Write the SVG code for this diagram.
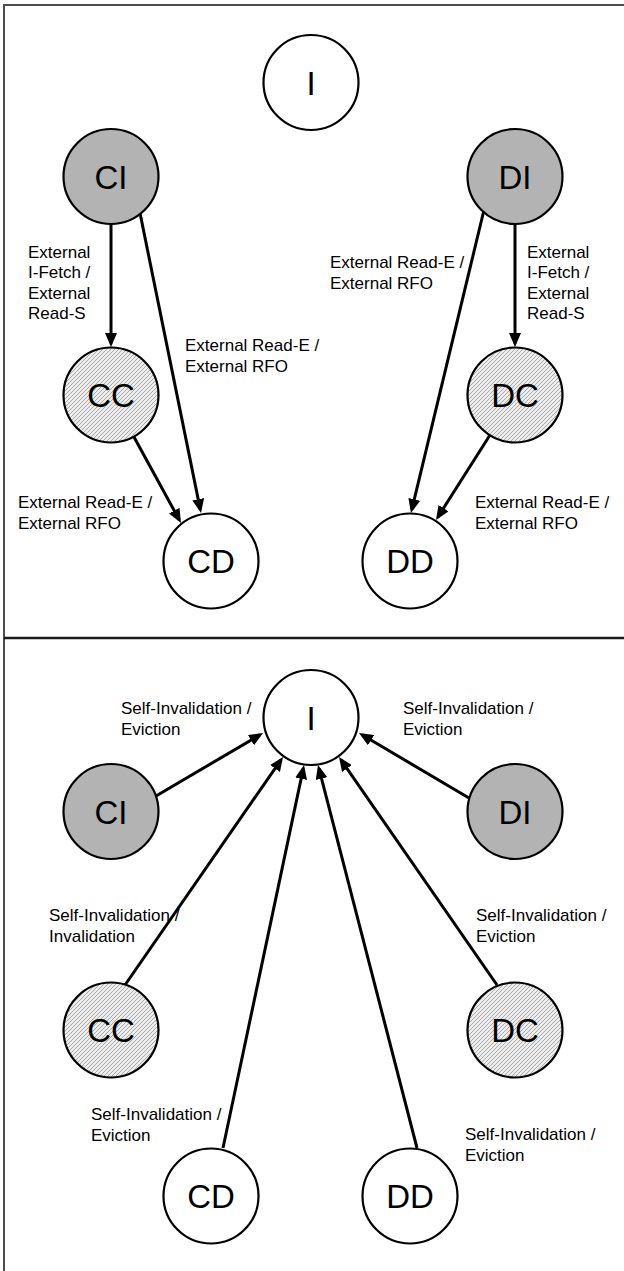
<svg xmlns="http://www.w3.org/2000/svg" width="624" height="1271" viewBox="0 0 624 1271">
<defs>
<pattern id="hatch" patternUnits="userSpaceOnUse" width="4" height="4">
<rect width="4" height="4" fill="#ececec"/>
<path d="M-1,1 L1,-1 M0,4 L4,0 M3,5 L5,3" stroke="#a3a3a3" stroke-width="0.9"/>
</pattern>
<marker id="arrow" markerUnits="userSpaceOnUse" markerWidth="14" markerHeight="12" refX="10.5" refY="6" orient="auto">
<path d="M0,0 L14,6 L0,12 z" fill="#000"/>
</marker>
</defs>
<style>
.node ellipse{stroke:#000;stroke-width:2.2}
.white{fill:#fff}
.gray{fill:#b3b3b3}
.hatch{fill:url(#hatch)}
.nl{font-family:"Liberation Sans",Arial,sans-serif;font-size:33px;text-anchor:middle;fill:#000}
.el{font-family:"Liberation Sans",Arial,sans-serif;font-size:17px;fill:#000}
.edge{stroke:#000;stroke-width:3;fill:none;marker-end:url(#arrow)}
</style>
<rect width="624" height="1271" fill="#fff"/>
<g id="frame">
<path d="M4,1271 V5 H624" fill="none" stroke="#4d4d4d" stroke-width="2"/>
<line x1="4" y1="638" x2="624" y2="638" stroke="#1a1a1a" stroke-width="2.5"/>
</g>
<g id="connectors">
<path class="edge" d="M111,224 L111,343.5"/>
<path class="edge" d="M140,213 L200.3,509.6"/>
<path class="edge" d="M134,437 L179.3,519.9"/>
<path class="edge" d="M515,224 L515,343.5"/>
<path class="edge" d="M483.5,212 L411.8,509.6"/>
<path class="edge" d="M490,435 L437.9,517"/>
<path class="edge" d="M156,796 L260,734.8"/>
<path class="edge" d="M469,798 L362,734.8"/>
<path class="edge" d="M125,985 L281,759.9"/>
<path class="edge" d="M223,1148 L303.3,768.4"/>
<path class="edge" d="M417,1148 L318.9,768.4"/>
<path class="edge" d="M497,985 L341,759.9"/>
</g>
<g id="labels">
<text class="el" x="28" y="257.5">External</text>
<text class="el" x="28" y="278">I-Fetch /</text>
<text class="el" x="28" y="298.5">External</text>
<text class="el" x="28" y="319">Read-S</text>
<text class="el" x="185" y="351">External Read-E /</text>
<text class="el" x="185" y="372">External RFO</text>
<text class="el" x="330" y="268">External Read-E /</text>
<text class="el" x="330" y="289">External RFO</text>
<text class="el" x="527" y="257.5">External</text>
<text class="el" x="527" y="278">I-Fetch /</text>
<text class="el" x="527" y="298.5">External</text>
<text class="el" x="527" y="319">Read-S</text>
<text class="el" x="18" y="508">External Read-E /</text>
<text class="el" x="18" y="529">External RFO</text>
<text class="el" x="475" y="508">External Read-E /</text>
<text class="el" x="475" y="529">External RFO</text>
<text class="el" x="121" y="714">Self-Invalidation /</text>
<text class="el" x="121" y="735">Eviction</text>
<text class="el" x="403" y="714">Self-Invalidation /</text>
<text class="el" x="403" y="735">Eviction</text>
<text class="el" x="49" y="921">Self-Invalidation /</text>
<text class="el" x="49" y="942">Invalidation</text>
<text class="el" x="476" y="921">Self-Invalidation /</text>
<text class="el" x="476" y="942">Eviction</text>
<text class="el" x="91" y="1120">Self-Invalidation /</text>
<text class="el" x="91" y="1141">Eviction</text>
<text class="el" x="465" y="1140">Self-Invalidation /</text>
<text class="el" x="465" y="1161">Eviction</text>
</g>
<g id="top-I" class="node"><ellipse class="white" cx="311" cy="82.5" rx="47.5" ry="47.5"/><text class="nl" x="311" y="94.5">I</text></g>
<g id="top-CI" class="node"><ellipse class="gray" cx="111" cy="176.5" rx="47.5" ry="47.5"/><text class="nl" x="111" y="188.5">CI</text></g>
<g id="top-DI" class="node"><ellipse class="gray" cx="515" cy="176.5" rx="47.5" ry="47.5"/><text class="nl" x="515" y="188.5">DI</text></g>
<g id="top-CC" class="node"><ellipse class="hatch" cx="111" cy="395" rx="47.5" ry="47.5"/><text class="nl" x="111" y="407">CC</text></g>
<g id="top-DC" class="node"><ellipse class="hatch" cx="515" cy="395" rx="47.5" ry="47.5"/><text class="nl" x="515" y="407">DC</text></g>
<g id="top-CD" class="node"><ellipse class="white" cx="211" cy="561" rx="47.5" ry="47.5"/><text class="nl" x="211" y="573">CD</text></g>
<g id="top-DD" class="node"><ellipse class="white" cx="410" cy="561" rx="47.5" ry="47.5"/><text class="nl" x="410" y="573">DD</text></g>
<g id="bot-I" class="node"><ellipse class="white" cx="311" cy="717.5" rx="47.5" ry="47.5"/><text class="nl" x="311" y="729.5">I</text></g>
<g id="bot-CI" class="node"><ellipse class="gray" cx="111" cy="811.5" rx="47.5" ry="47.5"/><text class="nl" x="111" y="823.5">CI</text></g>
<g id="bot-DI" class="node"><ellipse class="gray" cx="515" cy="811.5" rx="47.5" ry="47.5"/><text class="nl" x="515" y="823.5">DI</text></g>
<g id="bot-CC" class="node"><ellipse class="hatch" cx="111" cy="1030" rx="47.5" ry="47.5"/><text class="nl" x="111" y="1042">CC</text></g>
<g id="bot-DC" class="node"><ellipse class="hatch" cx="515" cy="1030" rx="47.5" ry="47.5"/><text class="nl" x="515" y="1042">DC</text></g>
<g id="bot-CD" class="node"><ellipse class="white" cx="211" cy="1196" rx="47.5" ry="47.5"/><text class="nl" x="211" y="1208">CD</text></g>
<g id="bot-DD" class="node"><ellipse class="white" cx="410" cy="1196" rx="47.5" ry="47.5"/><text class="nl" x="410" y="1208">DD</text></g>
</svg>
